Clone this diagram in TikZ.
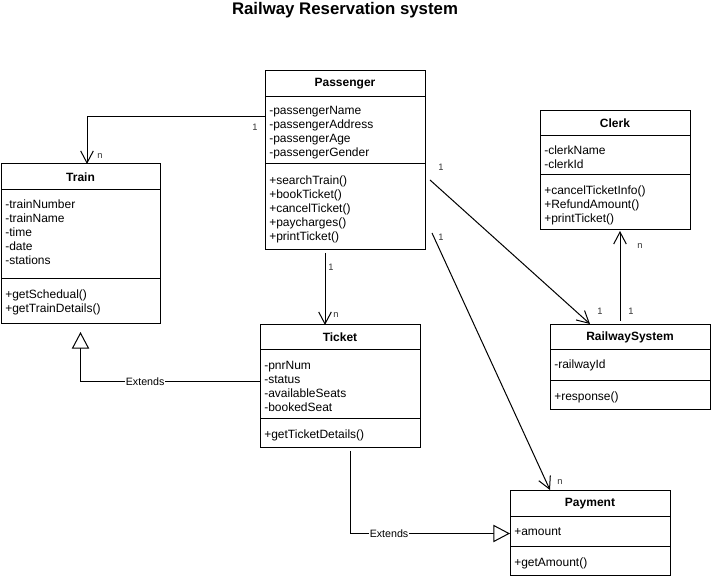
\documentclass[tikz,border=0pt]{standalone}
\usepackage{fontspec}
\setmainfont{Liberation Sans}
\usetikzlibrary{arrows.meta,calc}
\begin{document}
\begin{tikzpicture}[x=0.75pt,y=-0.75pt,
  cls/.style={draw,line width=0.75pt,anchor=north west,inner sep=0pt,outer sep=0pt},
  sep/.style={line width=0.75pt},
  hdr/.style={font=\fontsize{9}{10.5}\selectfont\bfseries,inner sep=0pt},
  txt/.style={font=\fontsize{9}{10.5}\selectfont,align=left,anchor=north west,inner sep=0pt},
  mult/.style={font=\fontsize{7}{8}\selectfont,text=black!80,inner sep=0pt},
  assoc/.style={line width=0.75pt,-{Straight Barb[length=9pt,width=9.5pt]}},
  ext/.style={line width=0.75pt,-{Triangle[open,length=12.5pt,width=13pt,fill=white]}},
  lbl/.style={font=\fontsize{8}{9}\selectfont,fill=white,inner sep=0.5pt}]
\useasboundingbox (0,0) rectangle (711,580);

\node[font=\fontsize{12.6}{14}\selectfont\bfseries,inner sep=0pt] (title) at (345,10) {Railway Reservation system};

% Passenger
\node[cls,minimum width=120pt,minimum height=134.25pt] (passenger) at (265,71) {};
\draw[sep] ($(passenger.north west)+(0,26)$) -- ($(passenger.north east)+(0,26)$);
\draw[sep] ($(passenger.north west)+(0,93)$) -- ($(passenger.north east)+(0,93)$);
\node[hdr] (passengerT) at ($(passenger.north)+(0,13)$) {Passenger};
\node[txt] (passengerA) at ($(passenger.north west)+(4,33.5)$) {\strut-passengerName\\\strut-passengerAddress\\\strut-passengerAge\\\strut-passengerGender};
\node[txt] (passengerM) at ($(passenger.north west)+(4,103)$) {\strut+searchTrain()\\\strut+bookTicket()\\\strut+cancelTicket()\\\strut+paycharges()\\\strut+printTicket()};

% Train
\node[cls,minimum width=119.25pt,minimum height=120pt] (train) at (1,164) {};
\draw[sep] ($(train.north west)+(0,26)$) -- ($(train.north east)+(0,26)$);
\draw[sep] ($(train.north west)+(0,115)$) -- ($(train.north east)+(0,115)$);
\node[hdr] (trainT) at ($(train.north)+(0,13)$) {Train};
\node[txt] (trainA) at ($(train.north west)+(4,34)$) {\strut-trainNumber\\\strut-trainName\\\strut-time\\\strut-date\\\strut-stations};
\node[txt] (trainM) at ($(train.north west)+(4,124)$) {\strut+getSchedual()\\\strut+getTrainDetails()};

% Ticket
\node[cls,minimum width=120pt,minimum height=92.25pt] (ticket) at (260,325) {};
\draw[sep] ($(ticket.north west)+(0,25)$) -- ($(ticket.north east)+(0,25)$);
\draw[sep] ($(ticket.north west)+(0,94)$) -- ($(ticket.north east)+(0,94)$);
\node[hdr] (ticketT) at ($(ticket.north)+(0,12.5)$) {Ticket};
\node[txt] (ticketA) at ($(ticket.north west)+(4,34)$) {\strut-pnrNum\\\strut-status\\\strut-availableSeats\\\strut-bookedSeat};
\node[txt] (ticketM) at ($(ticket.north west)+(4,103)$) {\strut+getTicketDetails()};

% Clerk
\node[cls,minimum width=112.5pt,minimum height=89.25pt] (clerk) at (540,111) {};
\draw[sep] ($(clerk.north west)+(0,25)$) -- ($(clerk.north east)+(0,25)$);
\draw[sep] ($(clerk.north west)+(0,64)$) -- ($(clerk.north east)+(0,64)$);
\node[hdr] (clerkT) at ($(clerk.north)+(0,12.5)$) {Clerk};
\node[txt] (clerkA) at ($(clerk.north west)+(4,33)$) {\strut-clerkName\\\strut-clerkId};
\node[txt] (clerkM) at ($(clerk.north west)+(4,73)$) {\strut+cancelTicketInfo()\\\strut+RefundAmount()\\\strut+printTicket()};

% RailwaySystem
\node[cls,minimum width=120pt,minimum height=63.75pt] (railway) at (550,325) {};
\draw[sep] ($(railway.north west)+(0,25)$) -- ($(railway.north east)+(0,25)$);
\draw[sep] ($(railway.north west)+(0,56)$) -- ($(railway.north east)+(0,56)$);
\node[hdr] (railwayT) at ($(railway.north)+(0,12.5)$) {RailwaySystem};
\node[txt] (railwayA) at ($(railway.north west)+(4,33)$) {\strut-railwayId};
\node[txt] (railwayM) at ($(railway.north west)+(4,65)$) {\strut+response()};

% Payment
\node[cls,minimum width=120pt,minimum height=63.75pt] (payment) at (510,491) {};
\draw[sep] ($(payment.north west)+(0,26)$) -- ($(payment.north east)+(0,26)$);
\draw[sep] ($(payment.north west)+(0,56)$) -- ($(payment.north east)+(0,56)$);
\node[hdr] (paymentT) at ($(payment.north)+(0,13)$) {Payment};
\node[txt] (paymentA) at ($(payment.north west)+(4,34)$) {\strut+amount};
\node[txt] (paymentM) at ($(payment.north west)+(4,65)$) {\strut+getAmount()};

% Associations
\draw[assoc] ($(passenger.north west)+(0,46)$) -| ($(train.north)+(6.5,0)$);
\draw[assoc] ($(passenger.south)+(-20,3)$) -- ($(ticket.north)+(-15,0)$);
\draw[assoc] ($(passenger.north east)+(5,109)$) -- ($(railway.north)+(-40,-1)$);
\draw[assoc] ($(passenger.north east)+(7,162)$) -- ($(payment.north)+(-40,-1)$);
\draw[assoc] ($(railway.north)+(-10,-4)$) -- ($(clerk.south)+(5,1)$);

% Generalisations
\draw[ext] ($(ticket.north west)+(0,57)$) -| ($(train.south)+(0,8)$)
  node[lbl,pos=0.32] (ext1) {Extends};
\draw[ext] ($(ticket.south)+(10,3)$) |- (payment.west)
  node[lbl,pos=0.622] (ext2) {Extends};

% Multiplicities
\node[mult] (m1) at (255,127) {1};
\node[mult] (m2) at (100,156) {n};
\node[mult] (m3) at (331,267) {1};
\node[mult] (m4) at (336,315) {n};
\node[mult] (m5) at (441,167) {1};
\node[mult] (m6) at (600,311) {1};
\node[mult] (m7) at (631,311) {1};
\node[mult] (m8) at (640,246) {n};
\node[mult] (m9) at (441,237) {1};
\node[mult] (m10) at (560,482) {n};
\end{tikzpicture}
\end{document}
